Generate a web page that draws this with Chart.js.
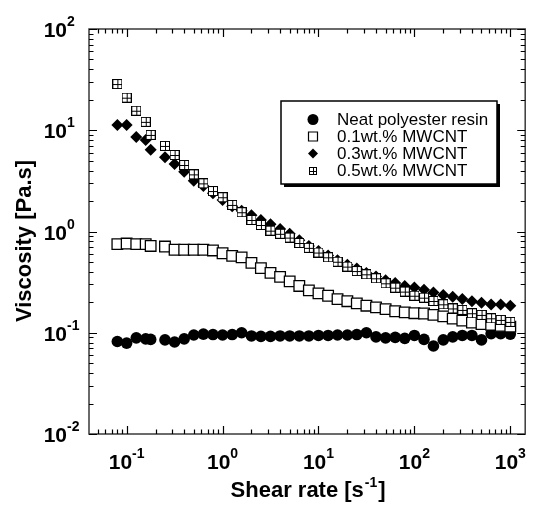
<!DOCTYPE html>
<html>
<head>
<meta charset="utf-8">
<script src="https://cdn.jsdelivr.net/npm/chart.js@4.4.0/dist/chart.umd.min.js"></script>
<style>
  html, body { margin: 0; padding: 0; background: #fff; }
  canvas { display: block; }
</style>
</head>
<body>
<canvas id="viscChart" width="534" height="507"></canvas>
<script>
// shear rate [1/s], shared by all four series
const shearRate = [0.08, 0.1, 0.126, 0.158, 0.178, 0.251, 0.316, 0.398, 0.501, 0.631, 0.794,
  1, 1.26, 1.58, 2.0, 2.51, 3.16, 3.98, 5.01, 6.31, 7.94,
  10, 12.6, 15.8, 20, 25.1, 31.6, 39.8, 50.1, 63.1, 79.4,
  100, 126, 158, 200, 251, 316, 398, 501, 631, 794, 1000];

const neatResin = [0.082, 0.079, 0.089, 0.087, 0.086, 0.085, 0.081, 0.087, 0.095, 0.097, 0.096,
  0.095, 0.096, 0.1, 0.093, 0.092, 0.092, 0.093, 0.093, 0.093, 0.093,
  0.094, 0.094, 0.095, 0.095, 0.096, 0.1, 0.091, 0.089, 0.09, 0.088,
  0.094, 0.086, 0.074, 0.085, 0.091, 0.094, 0.094, 0.085, 0.098, 0.098, 0.097];

const mwcnt01 = [0.75, 0.76, 0.75, 0.75, 0.72, 0.71, 0.66, 0.66, 0.66, 0.66, 0.65,
  0.61, 0.575, 0.555, 0.49, 0.435, 0.39, 0.356, 0.322, 0.29, 0.262,
  0.245, 0.232, 0.215, 0.205, 0.195, 0.185, 0.178, 0.171, 0.163, 0.159,
  0.156, 0.155, 0.15, 0.145, 0.138, 0.132, 0.126, 0.122, 0.12, 0.117, 0.115];

const mwcnt03 = [11.3, 11.3, 8.6, 8.0, 6.4, 5.4, 4.65, 3.9, 3.18, 2.81, 2.38,
  2.05, 1.78, 1.6, 1.45, 1.3, 1.18, 1.06, 0.95, 0.82, 0.72,
  0.64, 0.58, 0.52, 0.47, 0.43, 0.39, 0.36, 0.33, 0.31, 0.29,
  0.28, 0.266, 0.25, 0.236, 0.227, 0.215, 0.205, 0.198, 0.19, 0.19, 0.185];

const mwcnt05 = [28.6, 21, 15.6, 12.1, 9.0, 7.0, 5.7, 4.54, 3.67, 2.99, 2.51,
  2.18, 1.83, 1.55, 1.3, 1.16, 1.02, 0.95, 0.87, 0.77, 0.69,
  0.62, 0.556, 0.503, 0.45, 0.407, 0.378, 0.345, 0.308, 0.279, 0.255,
  0.232, 0.222, 0.206, 0.191, 0.174, 0.168, 0.156, 0.15, 0.139, 0.134, 0.128];

const seriesLabels = ["Neat polyester resin", "0.1wt.% MWCNT", "0.3wt.% MWCNT", "0.5wt.% MWCNT"];
const xTickExp = ["-1", "0", "1", "2", "3"];
const yTickExp = ["-2", "-1", "0", "1", "2"];

const FONT = '"Liberation Sans", Arial, Helvetica, sans-serif';

function toPoints(ys) {
  return shearRate.map((x, i) => ({ x: x, y: ys[i] }));
}

// square with a cross inside, used for the 0.5wt.% series
function gridSquare(size) {
  const c = document.createElement("canvas");
  c.width = size;
  c.height = size;
  const g = c.getContext("2d");
  g.fillStyle = "#fff";
  g.fillRect(0, 0, size, size);
  g.strokeStyle = "#000";
  g.lineWidth = 1;
  g.strokeRect(0.5, 0.5, size - 1, size - 1);
  const m = Math.floor(size / 2) + 0.5;
  g.beginPath();
  g.moveTo(m, 0);
  g.lineTo(m, size);
  g.moveTo(0, m);
  g.lineTo(size, m);
  g.stroke();
  return c;
}

function drawMarker(ctx, kind, cx, cy, s) {
  ctx.save();
  ctx.fillStyle = "#000";
  ctx.strokeStyle = "#000";
  ctx.beginPath();
  if (kind === "circle") {
    ctx.arc(cx, cy, s, 0, Math.PI * 2);
    ctx.fill();
  } else if (kind === "square") {
    ctx.fillStyle = "#fff";
    ctx.lineWidth = 1.2;
    ctx.rect(cx - s, cy - s, 2 * s, 2 * s);
    ctx.fill();
    ctx.stroke();
  } else if (kind === "diamond") {
    ctx.moveTo(cx, cy - s);
    ctx.lineTo(cx + s, cy);
    ctx.lineTo(cx, cy + s);
    ctx.lineTo(cx - s, cy);
    ctx.closePath();
    ctx.fill();
  } else {
    const img = gridSquare(2 * s);
    ctx.drawImage(img, Math.round(cx - s), Math.round(cy - s));
  }
  ctx.restore();
}

function drawPow(ctx, exp, x, yBase, align) {
  ctx.font = "bold 21px " + FONT;
  const wBase = ctx.measureText("10").width;
  ctx.font = "bold 14px " + FONT;
  const wExp = ctx.measureText(exp).width;
  let left;
  if (align === "center") left = x - (wBase + wExp) / 2;
  else left = x - wBase; // x = right edge of "10"
  ctx.textAlign = "left";
  ctx.textBaseline = "alphabetic";
  ctx.font = "bold 21px " + FONT;
  ctx.fillText("10", left, yBase);
  ctx.font = "bold 14px " + FONT;
  ctx.fillText(exp, left + wBase, yBase - 11);
}

const decorations = {
  id: "decorations",
  afterDraw(chart) {
    const ctx = chart.ctx;
    const a = chart.chartArea;
    const xs = chart.scales.x;
    const ys = chart.scales.y;
    ctx.save();

    // frame
    ctx.strokeStyle = "#3a3a3a";
    ctx.lineWidth = 1.5;
    ctx.strokeRect(a.left, a.top, a.right - a.left, a.bottom - a.top);

    // inward ticks on all four sides
    ctx.strokeStyle = "#000";
    ctx.lineWidth = 1.2;
    ctx.beginPath();
    for (let e = -3; e <= 3; e++) {
      for (let m = 1; m <= 9; m++) {
        const v = m * Math.pow(10, e);
        const len = m === 1 ? 8 : 4.5;
        if (v > xs.min * 1.001 && v < xs.max * 0.999) {
          const px = Math.round(xs.getPixelForValue(v)) + 0.5;
          ctx.moveTo(px, a.bottom);
          ctx.lineTo(px, a.bottom - len);
          ctx.moveTo(px, a.top);
          ctx.lineTo(px, a.top + len);
        }
        if (v >= ys.min * 0.999 && v <= ys.max * 1.001) {
          const py = Math.round(ys.getPixelForValue(v)) + 0.5;
          ctx.moveTo(a.left, py);
          ctx.lineTo(a.left + len, py);
          ctx.moveTo(a.right, py);
          ctx.lineTo(a.right - len, py);
        }
      }
    }
    ctx.stroke();

    // tick labels
    ctx.fillStyle = "#000";
    xTickExp.forEach((e) => {
      const px = xs.getPixelForValue(Math.pow(10, Number(e)));
      drawPow(ctx, e, px, 469, "center");
    });
    yTickExp.forEach((e) => {
      const py = ys.getPixelForValue(Math.pow(10, Number(e)));
      drawPow(ctx, e, 67, py + 8, "right");
    });

    // x title with superscript
    const t1 = "Shear rate [s";
    const t2 = "-1";
    const t3 = "]";
    ctx.font = "bold 22px " + FONT;
    const w1 = ctx.measureText(t1).width;
    const w3 = ctx.measureText(t3).width;
    ctx.font = "bold 14px " + FONT;
    const w2 = ctx.measureText(t2).width;
    const cx = (a.left + a.right) / 2;
    let left = cx - (w1 + w2 + w3) / 2;
    ctx.textAlign = "left";
    ctx.textBaseline = "alphabetic";
    ctx.font = "bold 22px " + FONT;
    ctx.fillText(t1, left, 497);
    ctx.font = "bold 14px " + FONT;
    ctx.fillText(t2, left + w1 + 1, 487);
    ctx.font = "bold 22px " + FONT;
    ctx.fillText(t3, left + w1 + w2 + 2, 497);

    // y title
    ctx.save();
    ctx.translate(24.5, 241);
    ctx.rotate(-Math.PI / 2);
    ctx.textAlign = "center";
    ctx.textBaseline = "middle";
    ctx.font = "bold 22px " + FONT;
    ctx.fillText("Viscosity [Pa.s]", 0, 0);
    ctx.restore();

    // legend box with drop shadow
    const bx = 281, by = 101, bw = 216, bh = 83;
    ctx.fillStyle = "#000";
    ctx.fillRect(bx + 3, by + 3, bw, bh);
    ctx.fillStyle = "#fff";
    ctx.fillRect(bx, by, bw, bh);
    ctx.strokeStyle = "#000";
    ctx.lineWidth = 1.5;
    ctx.strokeRect(bx, by, bw, bh);

    const kinds = ["circle", "square", "diamond", "grid"];
    const sizes = [5.5, 4.5, 5, 4];
    seriesLabels.forEach((lab, i) => {
      const ry = 119.5 + i * 17;
      drawMarker(ctx, kinds[i], 313, ry, sizes[i]);
      ctx.fillStyle = "#000";
      ctx.font = "17px " + FONT;
      ctx.textAlign = "left";
      ctx.textBaseline = "middle";
      ctx.fillText(lab, 337, ry + 1);
    });

    ctx.restore();
  }
};

const gridImg = gridSquare(10);

const viscChart = new Chart(document.getElementById("viscChart").getContext("2d"), {
  type: "scatter",
  data: {
    datasets: [
      {
        label: seriesLabels[3],
        data: toPoints(mwcnt05),
        pointStyle: gridImg,
        order: 0,
      },
      {
        label: seriesLabels[2],
        data: toPoints(mwcnt03),
        pointStyle: "rectRot",
        pointRadius: 6,
        backgroundColor: "#000",
        borderColor: "#000",
        borderWidth: 0,
        order: 1,
      },
      {
        label: seriesLabels[1],
        data: toPoints(mwcnt01),
        pointStyle: "rect",
        pointRadius: 7.5,
        backgroundColor: "#fff",
        borderColor: "#000",
        borderWidth: 1.3,
        order: 2,
      },
      {
        label: seriesLabels[0],
        data: toPoints(neatResin),
        pointStyle: "circle",
        pointRadius: 5.8,
        backgroundColor: "#000",
        borderColor: "#000",
        borderWidth: 0,
        order: 3,
      },
    ],
  },
  options: {
    responsive: false,
    animation: false,
    devicePixelRatio: 1,
    layout: {
      padding: { left: 89, top: 29, right: 5, bottom: 73 },
    },
    plugins: {
      legend: { display: false },
      tooltip: { enabled: false },
    },
    scales: {
      x: {
        type: "logarithmic",
        min: 0.0405,
        max: 1430,
        display: false,
      },
      y: {
        type: "logarithmic",
        min: 0.01,
        max: 100,
        display: false,
      },
    },
  },
  plugins: [decorations],
});
</script>
</body>
</html>
